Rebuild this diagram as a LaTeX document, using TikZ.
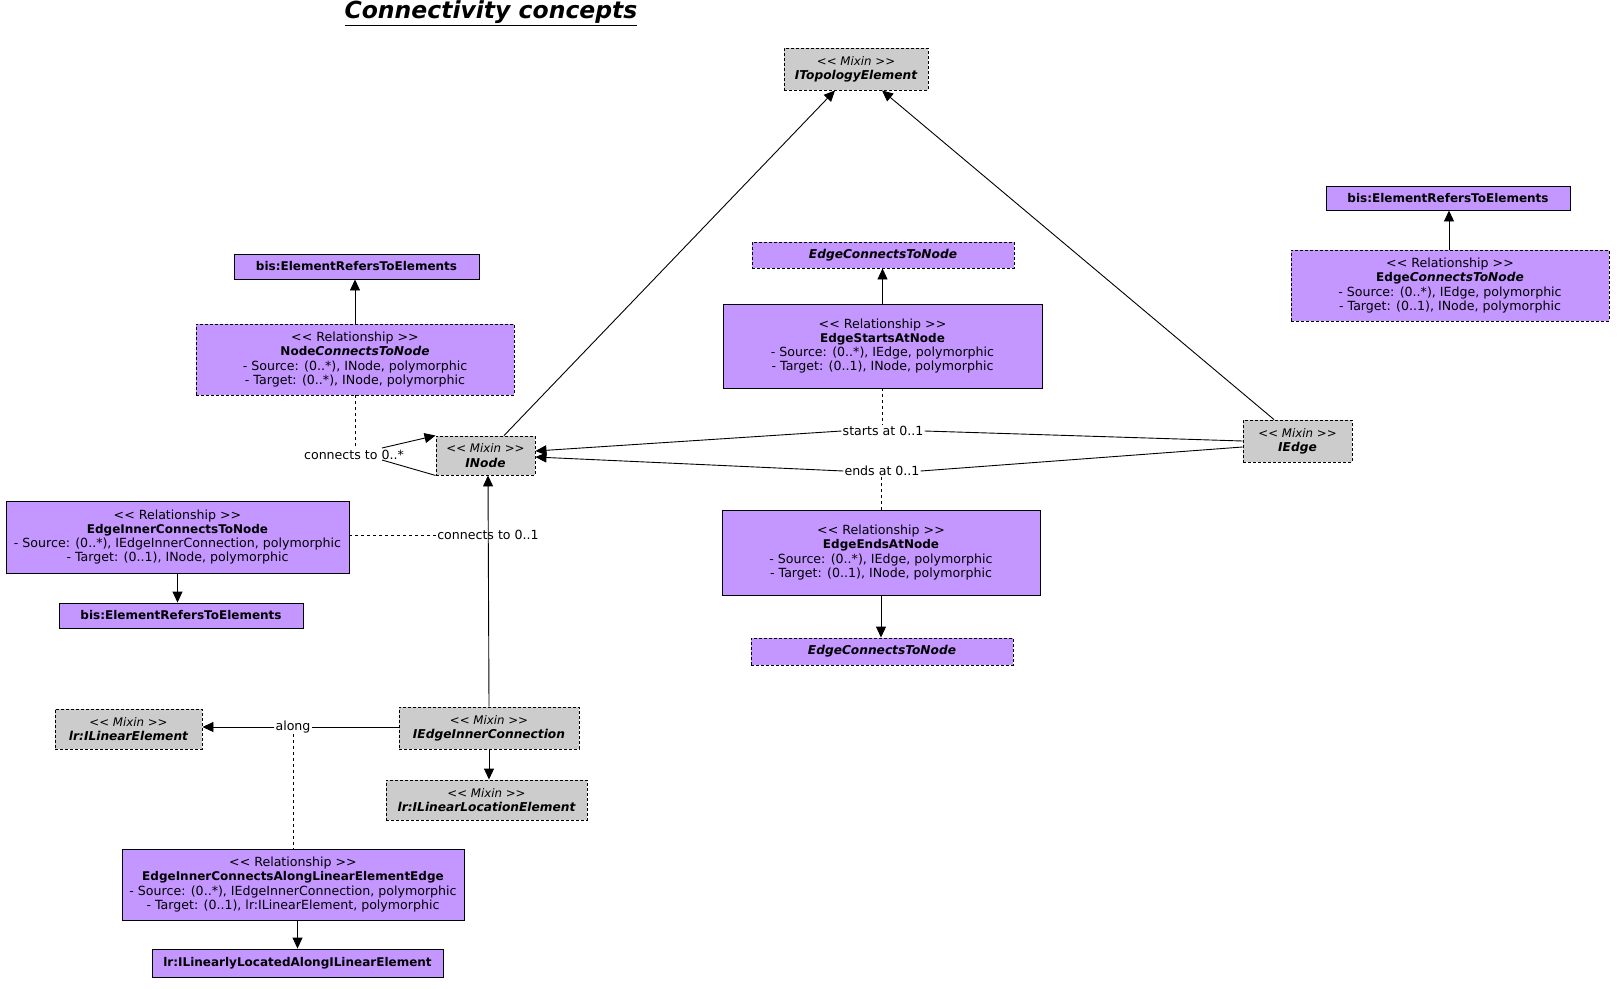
\documentclass[tikz,border=0pt]{standalone}
\usepackage{fontspec}
\setmainfont{DejaVu Sans}[Ligatures=TeXOff]
\usetikzlibrary{arrows.meta,calc}
\definecolor{relfill}{RGB}{196,150,255}
\definecolor{mixfill}{RGB}{204,204,204}
\newcommand\bn[1]{{\fontsize{12}{14.3}\selectfont\bfseries #1}}
\newcommand\bi[1]{{\fontsize{12.2}{14.3}\selectfont\bfseries\itshape #1}}
\newcommand\stx[1]{{\fontsize{11.8}{14.3}\selectfont\itshape #1}}
\begin{document}
\begin{tikzpicture}[x=1pt,y=-1pt,
  base/.style={draw=black,line width=0.9pt,align=center,inner sep=1pt,font=\fontsize{12.6}{14.3}\selectfont},
  rel/.style={base,fill=relfill},
  reldash/.style={rel,dash pattern=on 3pt off 2pt},
  mixin/.style={base,fill=mixfill,dash pattern=on 3pt off 2pt},
  arr/.style={-{Triangle[length=11pt,width=10pt]},line width=0.9pt},
  conn/.style={line width=0.9pt},
  dconn/.style={line width=0.9pt,dash pattern=on 3pt off 3pt},
  lbl/.style={font=\fontsize{12.6}{14}\selectfont,inner sep=1pt}
]
\useasboundingbox (0,0) rectangle (1617,988);

\node (title) at (491,13) {\fontsize{23.5}{27}\selectfont\bfseries\itshape\underline{Connectivity concepts}};

\node[mixin,minimum width=144pt,minimum height=42pt] (topo) at (856,69) {\stx{<< Mixin >>}\\\bi{ITopologyElement}};

\node[rel,minimum width=245pt,minimum height=25pt] (bisL) at (356.5,266.5) {\bn{bis:ElementRefersToElements}};
\node[reldash,minimum width=318pt,minimum height=71pt] (nctn) at (355,359.5) {<< Relationship >>\\\bn{Node}\bi{ConnectsToNode}\\- Source: (0..*), INode, polymorphic\\- Target: (0..*), INode, polymorphic};
\node[mixin,minimum width=99pt,minimum height=39pt] (inode) at (485.5,455.5) {\stx{<< Mixin >>}\\\bi{INode}};

\node[reldash,minimum width=262pt,minimum height=26pt] (ectnT) at (883,255) {\bi{EdgeConnectsToNode}};
\node[rel,minimum width=319pt,minimum height=84pt] (esan) at (882.5,346) {<< Relationship >>\\\bn{EdgeStartsAtNode}\\- Source: (0..*), IEdge, polymorphic\\- Target: (0..1), INode, polymorphic};

\node[rel,minimum width=244pt,minimum height=24pt] (bisR) at (1448,198) {\bn{bis:ElementRefersToElements}};
\node[reldash,minimum width=318pt,minimum height=71pt] (ectnR) at (1450,285.5) {<< Relationship >>\\\bn{Edge}\bi{ConnectsToNode}\\- Source: (0..*), IEdge, polymorphic\\- Target: (0..1), INode, polymorphic};
\node[mixin,minimum width=109pt,minimum height=42pt] (iedge) at (1297.5,441) {\stx{<< Mixin >>}\\\bi{IEdge}};

\node[rel,minimum width=343pt,minimum height=72pt] (eictn) at (177.5,537) {<< Relationship >>\\\bn{EdgeInnerConnectsToNode}\\- Source: (0..*), IEdgeInnerConnection, polymorphic\\- Target: (0..1), INode, polymorphic};
\node[rel,minimum width=244pt,minimum height=25pt] (bisB) at (181,615.5) {\bn{bis:ElementRefersToElements}};

\node[rel,minimum width=318pt,minimum height=85pt] (eean) at (881,552.5) {<< Relationship >>\\\bn{EdgeEndsAtNode}\\- Source: (0..*), IEdge, polymorphic\\- Target: (0..1), INode, polymorphic};
\node[reldash,minimum width=262pt,minimum height=27pt] (ectnB) at (882,651.5) {\bi{EdgeConnectsToNode}};

\node[mixin,minimum width=147pt,minimum height=40pt] (lrle) at (128.5,729) {\stx{<< Mixin >>}\\\bi{lr:ILinearElement}};
\node[mixin,minimum width=180pt,minimum height=42pt] (eic) at (489,728) {\stx{<< Mixin >>}\\\bi{IEdgeInnerConnection}};
\node[mixin,minimum width=201pt,minimum height=40pt] (lrlle) at (486.5,800) {\stx{<< Mixin >>}\\\bi{lr:ILinearLocationElement}};

\node[rel,minimum width=342pt,minimum height=71pt] (eicale) at (293,884.5) {<< Relationship >>\\\bn{EdgeInnerConnectsAlongLinearElementEdge}\\- Source: (0..*), IEdgeInnerConnection, polymorphic\\- Target: (0..1), lr:ILinearElement, polymorphic};
\node[rel,minimum width=291pt,minimum height=28pt] (lrllae) at (297.5,963) {\bn{lr:ILinearlyLocatedAlongILinearElement}};

% labels
\node[lbl] (lConn) at (354,455) {connects to 0..*};
\node[lbl] (lConn1) at (488,535) {connects to 0..1};
\node[lbl] (lStart) at (883,431) {starts at 0..1};
\node[lbl] (lEnd) at (882,471) {ends at 0..1};
\node[lbl] (lAlong) at (293,727) {along};

\coordinate (lpA) at (382,448);
\coordinate (lpB) at (382,460);

% connectors
\draw[arr] ($(inode.north)+(18.5,0)$) -- ($(topo.south)+(-21,0)$);
\draw[arr] ($(iedge.north)+(-23.5,0)$) -- ($(topo.south)+(26,0)$);

\draw[conn] (iedge.west) -- (lStart.east);
\draw[arr] (lStart.west) -- ($(inode.east)+(0,-4.5)$);
\draw[conn] ($(iedge.west)+(0,6)$) -- (lEnd.east);
\draw[arr] (lEnd.west) -- ($(inode.east)+(0,1.5)$);

\draw[arr] (esan.north) -- (esan.north |- ectnT.south);
\draw[dconn] (esan.south) -- (esan.south |- lStart.north);
\draw[arr] (eean.south) -- (eean.south |- ectnB.north);
\draw[dconn] (eean.north) -- (eean.north |- lEnd.south);

\draw[arr] (nctn.north) -- (nctn.north |- bisL.south);
\draw[arr] ($(ectnR.north)+(-1,0)$) -- ($(bisR.south)+(1,0)$);
\draw[dconn] (nctn.south) -- (nctn.south |- lConn.north);
\draw[arr] (lpA) -- (inode.north west);
\draw[conn] (lpB) -- (inode.south west);

\draw[dconn] (lConn1.west -| eictn.east) -- (lConn1.west);
\draw[arr] (eic.north) -- ($(inode.south)+(2.5,0)$);
\draw[arr] (eictn.south) -- (eictn.south |- bisB.north);

\draw[conn] (lAlong.east -| eic.west) -- (lAlong.east);
\draw[arr] (lAlong.west) -- (lAlong.west -| lrle.east);
\draw[dconn] (lAlong.south) -- (lAlong.south |- eicale.north);
\draw[arr] (eic.south) -- (eic.south |- lrlle.north);
\draw[arr] (eicale.south -| lrllae.north) -- (lrllae.north);
\end{tikzpicture}
\end{document}
